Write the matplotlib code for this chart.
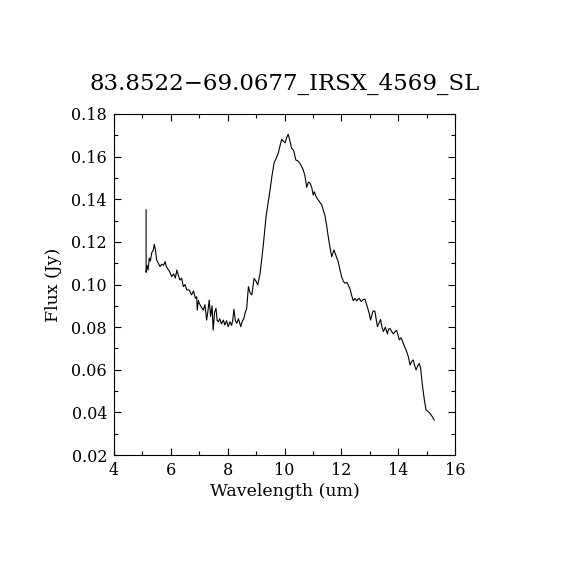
import matplotlib
matplotlib.use("Agg")
import matplotlib.pyplot as plt
from matplotlib.ticker import MultipleLocator

# spectrum
wavelength = [5.13, 5.13, 5.16, 5.20, 5.24, 5.28, 5.33, 5.38, 5.42, 5.46, 5.50, 5.56,
              5.62, 5.68, 5.74, 5.80, 5.84, 5.88, 5.96, 6.03, 6.10, 6.16, 6.21, 6.26,
              6.32, 6.38, 6.44, 6.50, 6.56, 6.65, 6.73, 6.80, 6.86, 6.91, 6.93, 6.97,
              7.00, 7.07, 7.14, 7.20, 7.26, 7.30, 7.35, 7.40, 7.45, 7.49, 7.54, 7.59,
              7.63, 7.67, 7.72, 7.78, 7.85, 7.90, 7.96, 8.02, 8.08, 8.14, 8.18, 8.22,
              8.27, 8.32, 8.38, 8.46, 8.52, 8.57, 8.61, 8.67, 8.73, 8.79, 8.85, 8.93,
              9.00, 9.06, 9.14, 9.20, 9.26, 9.35, 9.42, 9.49, 9.56, 9.63, 9.70, 9.78,
              9.84, 9.90, 9.94, 10.02, 10.08, 10.13, 10.18, 10.25, 10.32, 10.40, 10.47,
              10.54, 10.60, 10.66, 10.72, 10.78, 10.84, 10.90, 10.96, 11.01, 11.05,
              11.12, 11.19, 11.25, 11.31, 11.36, 11.42, 11.48, 11.54, 11.60, 11.66,
              11.74, 11.80, 11.89, 11.95, 12.01, 12.07, 12.13, 12.20, 12.25, 12.30,
              12.36, 12.42, 12.48, 12.54, 12.58, 12.63, 12.70, 12.76, 12.83, 12.91,
              12.97, 13.03, 13.08, 13.12, 13.18, 13.27, 13.33, 13.38, 13.43, 13.48,
              13.55, 13.62, 13.66, 13.71, 13.77, 13.83, 13.90, 13.95, 14.04, 14.10,
              14.15, 14.20, 14.30, 14.36, 14.42, 14.48, 14.53, 14.58, 14.63, 14.68,
              14.74, 14.79, 14.86, 14.92, 14.98, 15.05, 15.12, 15.20, 15.27]
flux = [0.135, 0.1057, 0.1090, 0.1068, 0.1124, 0.1110, 0.1150, 0.1160, 0.1189, 0.1160,
        0.1115, 0.1100, 0.1084, 0.1095, 0.1090, 0.1107, 0.1085, 0.1076, 0.1060, 0.1037,
        0.1050, 0.1030, 0.1068, 0.1045, 0.1021, 0.1030, 0.0990, 0.1000, 0.0975, 0.0974,
        0.0951, 0.0970, 0.0935, 0.0943, 0.0880, 0.0925, 0.0912, 0.0895, 0.0880, 0.0905,
        0.0833, 0.0870, 0.0927, 0.0850, 0.0900, 0.0786, 0.0870, 0.0888, 0.0830, 0.0825,
        0.0840, 0.0815, 0.0833, 0.0810, 0.0830, 0.0802, 0.0825, 0.0808, 0.0835, 0.0884,
        0.0830, 0.0818, 0.0840, 0.0802, 0.0830, 0.0840, 0.0865, 0.0888, 0.0990, 0.0960,
        0.0951, 0.1029, 0.1015, 0.0998, 0.1052, 0.1120, 0.1193, 0.1318, 0.1380, 0.1443,
        0.1510, 0.1569, 0.1590, 0.1616, 0.1650, 0.1681, 0.1675, 0.1665, 0.1690, 0.1705,
        0.1680, 0.1639, 0.1630, 0.1584, 0.1580, 0.1569, 0.1555, 0.1537, 0.1510, 0.1456,
        0.1480, 0.1475, 0.1455, 0.1420, 0.1435, 0.1410, 0.1396, 0.1385, 0.1373, 0.1350,
        0.1326, 0.1280, 0.1224, 0.1175, 0.1130, 0.1162, 0.1140, 0.1107, 0.1070, 0.1037,
        0.1015, 0.1006, 0.1010, 0.0995, 0.0982, 0.0950, 0.0924, 0.0935, 0.0923, 0.0930,
        0.0935, 0.0920, 0.0928, 0.0932, 0.0896, 0.0870, 0.0833, 0.0860, 0.0876, 0.0875,
        0.0802, 0.0820, 0.0836, 0.0800, 0.0779, 0.0800, 0.0768, 0.0790, 0.0794, 0.0780,
        0.0768, 0.0780, 0.0784, 0.0740, 0.0750, 0.0735, 0.0716, 0.0685, 0.0660, 0.0622,
        0.0640, 0.0646, 0.0620, 0.0599, 0.0615, 0.0630, 0.0607, 0.0520, 0.0460, 0.0411,
        0.0405, 0.0395, 0.0380, 0.0364]

title_text = "83.8522\u221269.0677_IRSX_4569_SL"

plt.rcParams["font.family"] = ["DejaVu Serif"]

fig = plt.figure(figsize=(5.7, 5.7), dpi=100)
ax = fig.add_axes([114 / 570, 1 - 455 / 570, 341 / 570, 341 / 570])

ax.plot(wavelength, flux, color="black", linewidth=0.8)

ax.set_xlim(4, 16)
ax.set_ylim(0.02, 0.18)
ax.xaxis.set_major_locator(MultipleLocator(2))
ax.xaxis.set_minor_locator(MultipleLocator(1))
ax.yaxis.set_major_locator(MultipleLocator(0.02))
ax.yaxis.set_minor_locator(MultipleLocator(0.01))
ax.yaxis.set_major_formatter(plt.FormatStrFormatter("%.2f"))
ax.tick_params(which="both", direction="in", top=True, right=True, labelsize=11.5,
               width=0.8)
ax.tick_params(which="major", length=5, pad=5)
ax.tick_params(which="minor", length=3)
for s in ax.spines.values():
    s.set_linewidth(0.8)

ax.set_xlabel("Wavelength (um)", fontsize=12.5, labelpad=3)
ax.set_ylabel("Flux (Jy)", fontsize=12.5, labelpad=7)
fig.text(0.5, 1 - 84 / 570, title_text, ha="center", va="center", fontsize=16.5)

fig.savefig("out.png", dpi=100)
